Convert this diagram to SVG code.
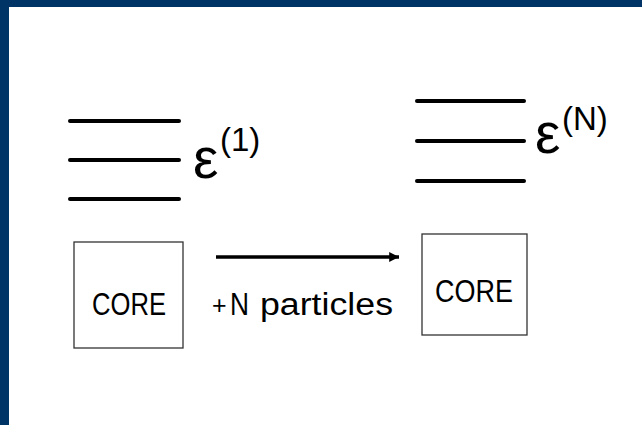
<svg xmlns="http://www.w3.org/2000/svg" width="642" height="425" viewBox="0 0 642 425">
<defs>
<style>
.lvl{stroke:#000;stroke-width:4;stroke-linecap:round;fill:none}
.box{fill:#fff;stroke:#333;stroke-width:1.3}
.lbl{font-family:"Liberation Sans",Arial,sans-serif;fill:#000}
.eps{font-family:"Liberation Sans",Arial,sans-serif;font-size:57px;fill:#000}
.sup{font-family:"Liberation Sans",Arial,sans-serif;font-size:33px;fill:#000}
</style>
<marker id="ah" viewBox="0 0 10 10" refX="10" refY="5" markerWidth="5" markerHeight="2.8" orient="auto" markerUnits="strokeWidth">
<path d="M0,0 L10,5 L0,10 Z" fill="#000"/>
</marker>
</defs>
<rect x="0" y="0" width="642" height="425" fill="#fff"/>
<rect x="0" y="0" width="642" height="7" fill="#003366"/>
<rect x="0" y="0" width="9" height="425" fill="#003366"/>
<g id="levels-1">
<line class="lvl" x1="70" y1="121" x2="179" y2="121"/>
<line class="lvl" x1="70" y1="160" x2="179" y2="160"/>
<line class="lvl" x1="70" y1="199" x2="179" y2="199"/>
<text class="eps" x="193" y="178">ε</text>
<text class="sup" x="220" y="151">(1)</text>
</g>
<g id="levels-N">
<line class="lvl" x1="417" y1="101" x2="524" y2="101"/>
<line class="lvl" x1="417" y1="141" x2="524" y2="141"/>
<line class="lvl" x1="417" y1="181" x2="524" y2="181"/>
<text class="eps" x="535" y="153">ε</text>
<text class="sup" x="562" y="130">(N)</text>
</g>
<g id="core-1">
<rect class="box" x="74" y="242" width="109" height="106"/>
<text class="lbl" x="129" y="315" font-size="31" text-anchor="middle" textLength="74" lengthAdjust="spacingAndGlyphs">CORE</text>
</g>
<g id="core-N">
<rect class="box" x="422" y="234" width="105" height="101"/>
<text class="lbl" x="474" y="302" font-size="31" text-anchor="middle" textLength="78" lengthAdjust="spacingAndGlyphs">CORE</text>
</g>
<g id="connectors">
<line x1="216" y1="257" x2="399" y2="257" stroke="#000" stroke-width="3.5" marker-end="url(#ah)"/>
<text class="lbl" x="212" y="314" font-size="25">+</text>
<text class="lbl" x="230" y="315" font-size="31" textLength="19" lengthAdjust="spacingAndGlyphs">N</text>
<text class="lbl" x="260" y="315" font-size="31" textLength="133" lengthAdjust="spacingAndGlyphs">particles</text>
</g>
</svg>
